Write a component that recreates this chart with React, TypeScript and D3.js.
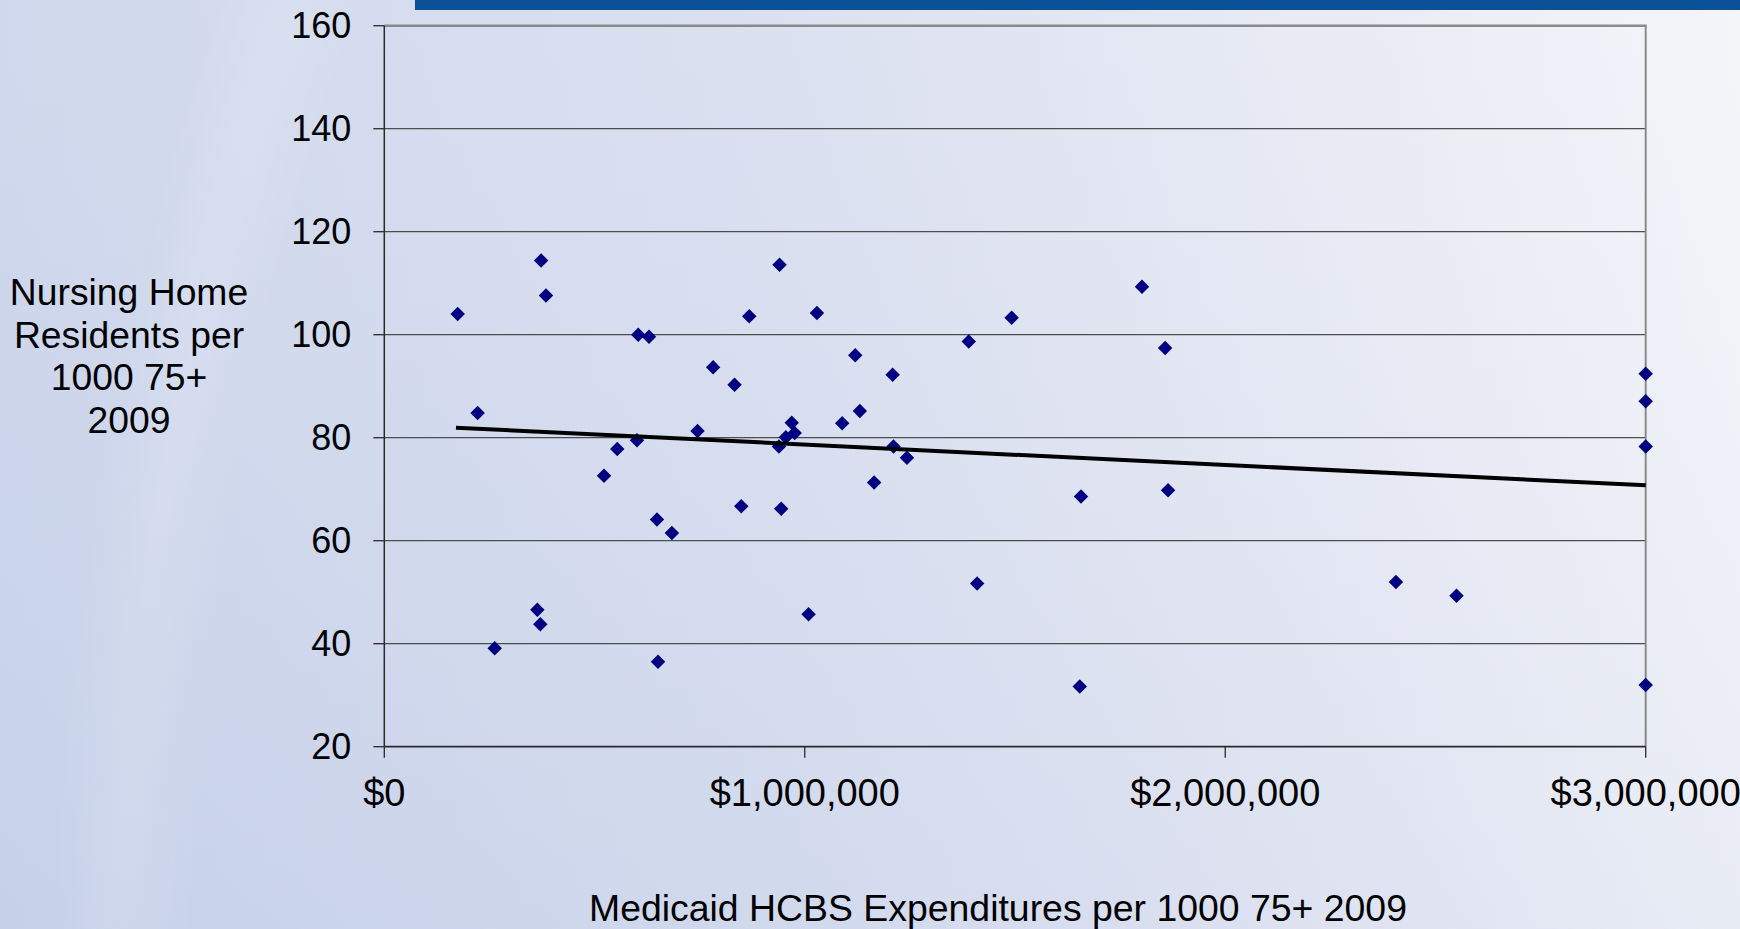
import React from "react";
import * as d3 from "d3";

// Medicaid HCBS expenditures per 1000 population aged 75+ (2009), dollars
const hcbsSpending: number[] = [
  174600, 222000, 262500, 364000, 371000, 373000, 384500, 522500, 554000, 601000,
  604000, 629500, 648500, 651000, 684000, 745000, 782000, 833000, 849000, 868000,
  938600, 940000, 944000, 955000, 969000, 976000, 1009000, 1029000, 1089000, 1120000,
  1131000, 1165000, 1209000, 1211000, 1243000, 1390000, 1410000, 1492000, 1654000, 1657000,
  1802000, 1857000, 1864000, 2406000, 2550000, 3000000, 3000000, 3000000, 3000000,
];

// Nursing home residents per 1000 population aged 75+ (2009)
const nhResidents: number[] = [
  104.0, 84.8, 39.1, 46.6, 43.8, 114.4, 107.6, 72.6, 77.8, 79.5,
  100.0, 99.6, 64.1, 36.5, 61.5, 81.3, 93.7, 90.3, 66.7, 103.6,
  78.3, 113.6, 66.2, 80.1, 82.9, 80.9, 45.7, 104.2, 82.8, 96.0,
  85.2, 71.3, 92.2, 78.3, 76.1, 98.7, 51.7, 103.3, 31.7, 68.6,
  109.3, 97.4, 69.8, 52.0, 49.3, 92.4, 87.1, 78.3, 32.0,
];

// Linear trend line end points
const trendX: number[] = [170500, 3000000];
const trendY: number[] = [81.95, 70.75];

const xTicks: number[] = [0, 1000000, 2000000, 3000000];
const yTicks: number[] = [20, 40, 60, 80, 100, 120, 140, 160];

const yTitleLines: string[] = ["Nursing Home", "Residents per", "1000 75+", "2009"];
const xTitle = "Medicaid HCBS Expenditures per 1000 75+ 2009";

const W = 1740;
const H = 929;
const FONT = "'Liberation Sans', Arial, Helvetica, sans-serif";

export default function App() {
  const plot = { left: 384.3, right: 1645.7, top: 25.7, bottom: 746.7 };

  const x = d3.scaleLinear().domain([0, 3000000]).range([plot.left, plot.right]);
  const y = d3.scaleLinear().domain([20, 160]).range([plot.bottom, plot.top]);

  const fmt = (v: number) => "$" + d3.format(",")(v);

  const diamond = d3.symbol().type(d3.symbolSquare).size(105)();

  const trendLine = d3
    .line<number>()
    .x((_, i) => x(trendX[i]))
    .y((d) => y(d))(trendY);

  return (
    <svg
      width={W}
      height={H}
      style={{ position: "absolute", left: 0, top: 0, display: "block" }}
      fontFamily={FONT}
    >
      <defs>
        <linearGradient id="bgH" x1="0" y1="0" x2="1" y2="0">
          <stop offset="0" stopColor="#c9d3ea" />
          <stop offset="0.45" stopColor="#d6ddee" />
          <stop offset="0.8" stopColor="#e8eaf4" />
          <stop offset="1" stopColor="#f3f4f8" />
        </linearGradient>
        <linearGradient id="bgV" x1="0" y1="0" x2="0" y2="1">
          <stop offset="0" stopColor="#ffffff" stopOpacity="0.12" />
          <stop offset="1" stopColor="#b8c6e6" stopOpacity="0.18" />
        </linearGradient>
        <filter id="soft" x="-50%" y="-50%" width="200%" height="200%">
          <feGaussianBlur stdDeviation="26" />
        </filter>
      </defs>

      {/* slide background */}
      <rect x={0} y={0} width={W} height={H} fill="url(#bgH)" />
      <rect x={0} y={0} width={W} height={H} fill="url(#bgV)" />
      <path
        d="M 300 -20 C 200 250, 140 520, 120 960"
        fill="none"
        stroke="#ffffff"
        strokeOpacity={0.16}
        strokeWidth={55}
        filter="url(#soft)"
      />

      {/* title band */}
      <rect x={415} y={0} width={W - 415} height={10} fill="#0b5197" />

      {/* horizontal gridlines */}
      {yTicks
        .filter((t) => t !== 20 && t !== 160)
        .map((t) => (
          <line
            key={`g${t}`}
            x1={plot.left}
            x2={plot.right}
            y1={y(t)}
            y2={y(t)}
            stroke="#4d4d4d"
            strokeWidth={1.3}
          />
        ))}

      {/* plot frame: top and right */}
      <line x1={plot.left} x2={plot.right + 1} y1={plot.top} y2={plot.top} stroke="#8a8a8a" strokeWidth={2.5} />
      <line x1={plot.right} x2={plot.right} y1={plot.top} y2={plot.bottom} stroke="#8a8a8a" strokeWidth={2} />

      {/* y axis */}
      <line x1={plot.left} x2={plot.left} y1={plot.top} y2={plot.bottom} stroke="#2a2a2a" strokeWidth={1.5} />
      {yTicks.map((t) => (
        <g key={`y${t}`}>
          <line x1={plot.left - 11} x2={plot.left} y1={y(t)} y2={y(t)} stroke="#2a2a2a" strokeWidth={1.3} />
          <text
            x={plot.left - 33}
            y={y(t)}
            textAnchor="end"
            dominantBaseline="central"
            fontSize={36}
            fill="#000"
          >
            {t}
          </text>
        </g>
      ))}

      {/* x axis */}
      <line x1={plot.left} x2={plot.right} y1={plot.bottom} y2={plot.bottom} stroke="#2a2a2a" strokeWidth={1.7} />
      {xTicks.map((t) => (
        <g key={`x${t}`}>
          <line x1={x(t)} x2={x(t)} y1={plot.bottom} y2={plot.bottom + 11} stroke="#2a2a2a" strokeWidth={1.3} />
          <text x={x(t)} y={806} textAnchor="middle" fontSize={38} fill="#000">
            {fmt(t)}
          </text>
        </g>
      ))}

      {/* axis titles */}
      <text x={129} y={305} textAnchor="middle" fontSize={37.3} fill="#000">
        {yTitleLines.map((line, i) => (
          <tspan key={line} x={129} y={305 + i * 42.6}>
            {line}
          </tspan>
        ))}
      </text>
      <text x={998} y={921} textAnchor="middle" fontSize={37.4} fill="#000">
        {xTitle}
      </text>

      {/* data points */}
      {hcbsSpending.map((v, i) => (
        <path
          key={`p${i}`}
          d={diamond ?? ""}
          transform={`translate(${x(v)},${y(nhResidents[i])}) rotate(45)`}
          fill="#000080"
        />
      ))}

      {/* trend line */}
      <path d={trendLine ?? ""} fill="none" stroke="#000" strokeWidth={4} />
    </svg>
  );
}
